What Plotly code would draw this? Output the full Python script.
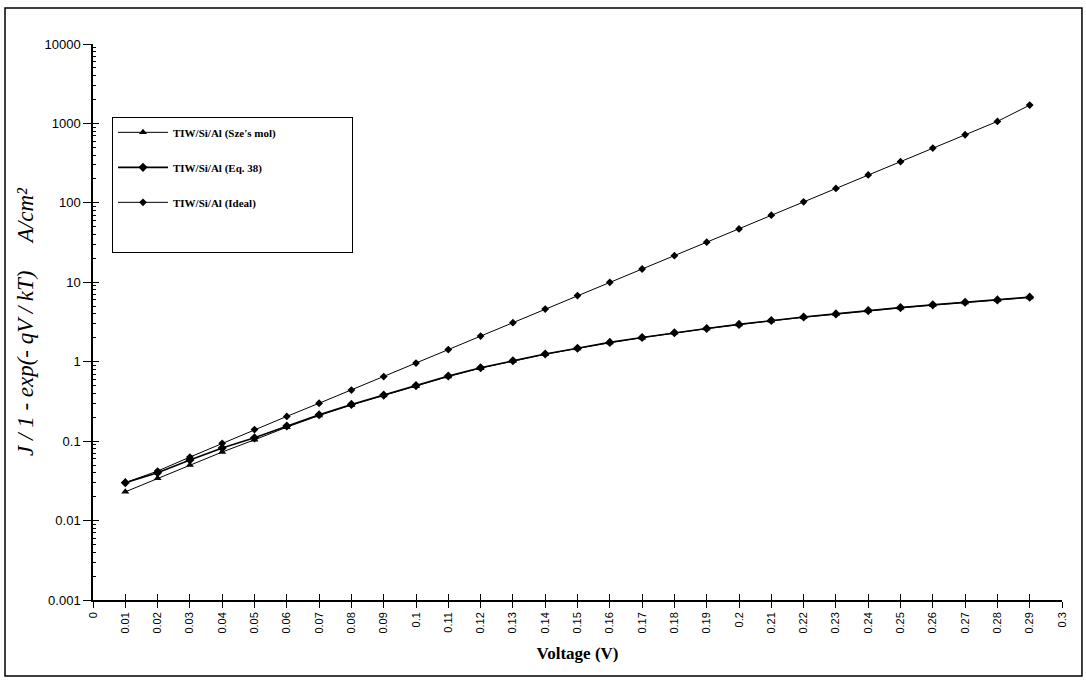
import plotly.graph_objects as go

voltage = [0.01, 0.02, 0.03, 0.04, 0.05, 0.06, 0.07, 0.08, 0.09, 0.10,
           0.11, 0.12, 0.13, 0.14, 0.15, 0.16, 0.17, 0.18, 0.19, 0.20,
           0.21, 0.22, 0.23, 0.24, 0.25, 0.26, 0.27, 0.28, 0.29]

sze_model = [0.023, 0.034, 0.050, 0.073, 0.104, 0.150, 0.210, 0.285, 0.375, 0.49,
             0.65, 0.83, 1.02, 1.24, 1.47, 1.74, 2.01, 2.31, 2.61, 2.94,
             3.28, 3.63, 3.98, 4.38, 4.78, 5.18, 5.58, 5.98, 6.45]

eq38 = [0.030, 0.040, 0.058, 0.082, 0.110, 0.155, 0.215, 0.290, 0.380, 0.50,
        0.66, 0.84, 1.03, 1.25, 1.48, 1.75, 2.02, 2.32, 2.62, 2.95,
        3.30, 3.65, 4.00, 4.40, 4.80, 5.20, 5.60, 6.00, 6.50]

ideal = [0.030, 0.042, 0.063, 0.094, 0.140, 0.205, 0.300, 0.440, 0.650, 0.96,
         1.42, 2.10, 3.10, 4.60, 6.80, 10.0, 14.7, 21.6, 32.0, 47.0,
         70.0, 103.0, 152.0, 225.0, 330.0, 490.0, 720.0, 1060.0, 1700.0]

x_tickvals = [i / 100 for i in range(31)]
x_ticktext = ["0", "0.01", "0.02", "0.03", "0.04", "0.05", "0.06", "0.07", "0.08", "0.09",
              "0.1", "0.11", "0.12", "0.13", "0.14", "0.15", "0.16", "0.17", "0.18", "0.19",
              "0.2", "0.21", "0.22", "0.23", "0.24", "0.25", "0.26", "0.27", "0.28", "0.29", "0.3"]
y_tickvals = [0.001, 0.01, 0.1, 1, 10, 100, 1000, 10000]
y_ticktext = ["0.001", "0.01", "0.1", "1", "10", "100", "1000", "10000"]
y_minor = [m * d for d in [0.001, 0.01, 0.1, 1, 10, 100, 1000] for m in range(2, 10)]

series_names = ["TIW/Si/Al (Sze's mol)", "TIW/Si/Al (Eq. 38)", "TIW/Si/Al (Ideal)"]

fig = go.Figure()
fig.add_trace(go.Scatter(x=voltage, y=sze_model, name=series_names[0], mode="lines+markers",
                         line=dict(color="black", width=1),
                         marker=dict(symbol="triangle-up", size=7, color="black"),
                         legendgroup="a"))
fig.add_trace(go.Scatter(x=voltage, y=eq38, name=series_names[1], mode="lines+markers",
                         line=dict(color="black", width=1.6),
                         marker=dict(symbol="diamond", size=7, color="black"),
                         legendgroup="b"))
fig.add_trace(go.Scatter(x=voltage, y=ideal, name=series_names[2], mode="lines+markers",
                         line=dict(color="black", width=1),
                         marker=dict(symbol="diamond", size=6, color="black"),
                         legendgroup="c"))
# blank legend row that gives the legend box its extra room
fig.add_trace(go.Scatter(x=[None], y=[None], name="\u00a0" * 63, mode="markers",
                         marker=dict(opacity=0, color="white"), legendgroup="d",
                         hoverinfo="skip"))
# helper trace to carry the inner half of the crossing tick marks
fig.add_trace(go.Scatter(x=[None], y=[None], xaxis="x2", yaxis="y2", showlegend=False,
                         hoverinfo="skip"))

tick_font = dict(family="Liberation Sans, Arial", size=13, color="black")

fig.update_layout(
    width=1086, height=680,
    paper_bgcolor="white", plot_bgcolor="white",
    margin=dict(l=93, r=24, t=44, b=80),
    showlegend=True,
    legend=dict(x=0.0196, y=0.869, xanchor="left", yanchor="top",
                bgcolor="white", bordercolor="black", borderwidth=1,
                font=dict(family="Liberation Serif, Times New Roman", size=11, color="black",
                          weight="bold"),
                tracegroupgap=16, itemwidth=50,
                traceorder="grouped"),
    xaxis=dict(type="linear", range=[0, 0.3], tickvals=x_tickvals, ticktext=x_ticktext,
               tickangle=-90, tickfont=dict(family="Liberation Sans, Arial", size=11, color="black"),
               ticks="outside", ticklen=6, tickcolor="black", tickwidth=1,
               showline=True, linecolor="black", linewidth=1.5, showgrid=False, zeroline=False,
               title=dict(text="<b>Voltage (V)</b>",
                          font=dict(family="Liberation Serif, Times New Roman", size=17, color="black"),
                          standoff=15)),
    yaxis=dict(type="log", range=[-3, 4], tickvals=y_tickvals, ticktext=y_ticktext,
               tickfont=tick_font, ticks="outside", ticklen=8, tickcolor="black", tickwidth=1,
               minor=dict(tickvals=y_minor, ticks="inside", ticklen=3, tickcolor="black", showgrid=False),
               showline=True, linecolor="black", linewidth=1.5, showgrid=False, zeroline=False,
               title=dict(text="<i>J / 1 - exp(- qV / kT)     A/cm²</i>",
                          font=dict(family="Liberation Serif, Times New Roman", size=23, color="black"),
                          standoff=4)),
    xaxis2=dict(overlaying="x", anchor="y2", side="bottom", range=[0, 0.3], tickvals=x_tickvals,
                showticklabels=False, ticks="inside", ticklen=6, tickcolor="black",
                showline=False, showgrid=False, zeroline=False),
    yaxis2=dict(overlaying="y", anchor="x2", side="left", type="log", range=[-3, 4],
                tickvals=y_tickvals, showticklabels=False, ticks="inside", ticklen=6,
                tickcolor="black", showline=False, showgrid=False, zeroline=False),
    shapes=[dict(type="rect", xref="paper", yref="paper", x0=-0.0908, x1=1.0206,
                 y0=-0.1367, y1=1.0647, line=dict(color="black", width=1.5),
                 fillcolor="rgba(0,0,0,0)", layer="below")],
)

fig.write_html("out.html", config={"displayModeBar": False},
               post_script="document.body.style.margin='0';document.body.style.padding='0';")
